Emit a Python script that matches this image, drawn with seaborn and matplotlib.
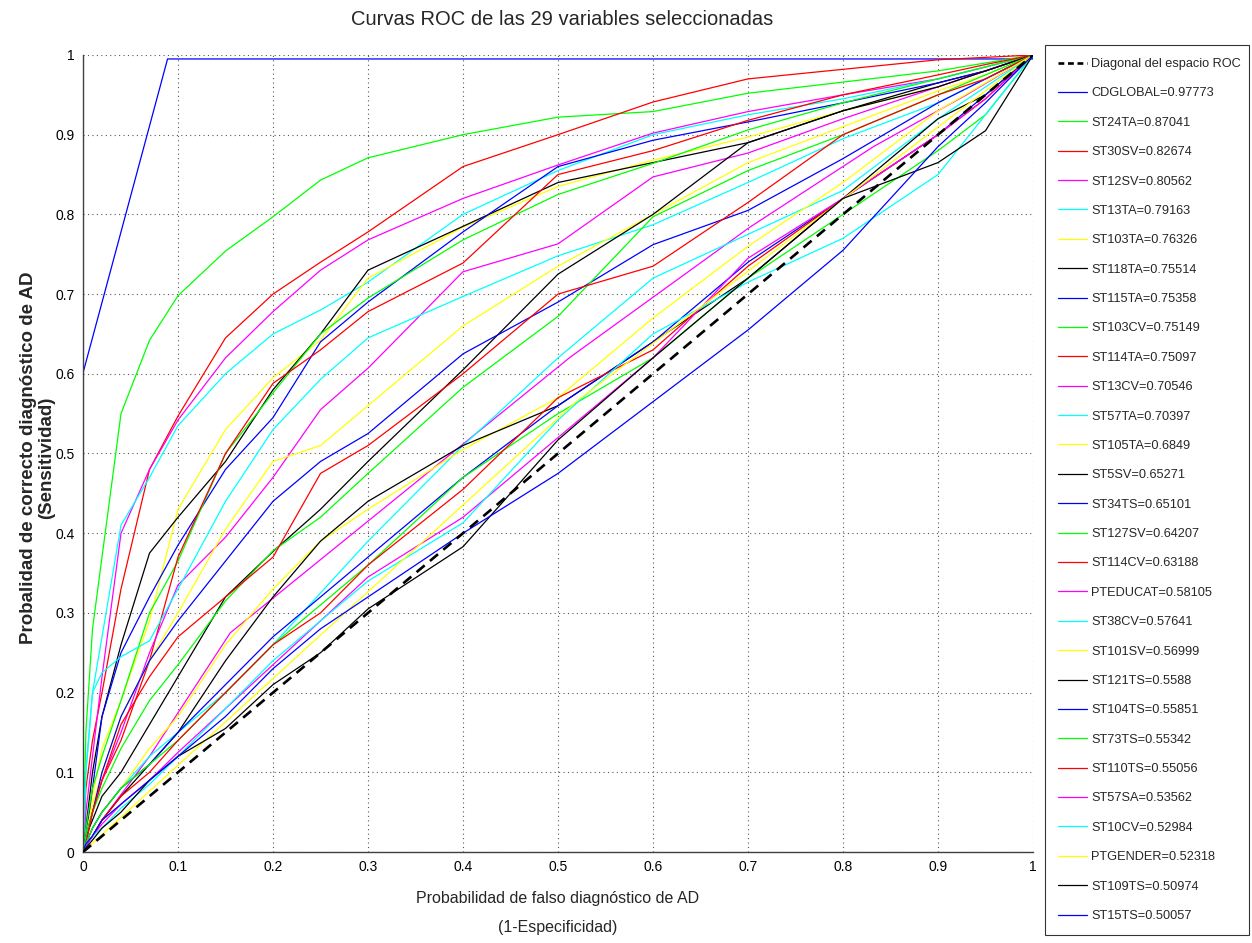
import numpy as np
import pandas as pd
import matplotlib
matplotlib.use("Agg")
import matplotlib.pyplot as plt
from matplotlib.lines import Line2D
import seaborn as sns

# ---------------- data ----------------
names = ["CDGLOBAL", "ST24TA", "ST30SV", "ST12SV", "ST13TA", "ST103TA", "ST118TA",
         "ST115TA", "ST103CV", "ST114TA", "ST13CV", "ST57TA", "ST105TA", "ST5SV",
         "ST34TS", "ST127SV", "ST114CV", "PTEDUCAT", "ST38CV", "ST101SV", "ST121TS",
         "ST104TS", "ST73TS", "ST110TS", "ST57SA", "ST10CV", "PTGENDER", "ST109TS", "ST15TS"]
auc_values = [0.97773, 0.87041, 0.82674, 0.80562, 0.79163, 0.76326, 0.75514,
              0.75358, 0.75149, 0.75097, 0.70546, 0.70397, 0.6849, 0.65271,
              0.65101, 0.64207, 0.63188, 0.58105, 0.57641, 0.56999, 0.5588,
              0.55851, 0.55342, 0.55056, 0.53562, 0.52984, 0.52318, 0.50974, 0.50057]

# shared false-positive-rate grid for most curves
fpr_grid = [0, 0.003, 0.01, 0.02, 0.04, 0.07, 0.1, 0.15, 0.2, 0.25, 0.3,
            0.4, 0.5, 0.6, 0.7, 0.8, 0.9, 0.95, 1.0]

fpr_cdglobal = [0, 0, 0.089, 1.0, 1.0]
tpr_cdglobal = [0, 0.601, 0.995, 0.995, 1.0]

tpr_st24ta   = [0, 0.15, 0.28, 0.37, 0.55, 0.642, 0.698, 0.754, 0.797, 0.843, 0.871, 0.90, 0.922, 0.929, 0.952, 0.966, 0.98, 0.99, 1.0]
tpr_st30sv   = [0, 0.08, 0.14, 0.20, 0.33, 0.48, 0.547, 0.645, 0.70, 0.74, 0.778, 0.86, 0.90, 0.941, 0.97, 0.982, 0.994, 0.997, 1.0]
tpr_st12sv   = [0, 0.05, 0.12, 0.22, 0.40, 0.48, 0.542, 0.62, 0.678, 0.73, 0.768, 0.82, 0.862, 0.902, 0.929, 0.95, 0.97, 0.985, 1.0]
tpr_st13ta   = [0, 0.10, 0.20, 0.27, 0.41, 0.47, 0.535, 0.60, 0.65, 0.68, 0.715, 0.80, 0.855, 0.90, 0.925, 0.945, 0.97, 0.985, 1.0]
tpr_st103ta  = [0, 0.02, 0.07, 0.13, 0.19, 0.29, 0.43, 0.53, 0.595, 0.642, 0.72, 0.784, 0.835, 0.868, 0.897, 0.93, 0.96, 0.98, 1.0]
tpr_st118ta  = [0, 0.03, 0.10, 0.17, 0.26, 0.375, 0.42, 0.49, 0.58, 0.65, 0.73, 0.785, 0.84, 0.865, 0.89, 0.93, 0.965, 0.98, 1.0]
tpr_st115ta  = [0, 0.02, 0.08, 0.17, 0.25, 0.32, 0.385, 0.48, 0.545, 0.64, 0.69, 0.778, 0.86, 0.893, 0.916, 0.94, 0.965, 0.98, 1.0]
tpr_st103cv  = [0, 0.03, 0.08, 0.12, 0.19, 0.30, 0.365, 0.50, 0.576, 0.65, 0.695, 0.768, 0.825, 0.864, 0.906, 0.94, 0.97, 0.985, 1.0]
tpr_st114ta  = [0, 0.01, 0.05, 0.09, 0.14, 0.24, 0.37, 0.50, 0.588, 0.63, 0.678, 0.739, 0.85, 0.88, 0.918, 0.95, 0.975, 0.988, 1.0]
tpr_st13cv   = [0, 0.02, 0.05, 0.09, 0.15, 0.25, 0.335, 0.395, 0.47, 0.555, 0.607, 0.728, 0.763, 0.847, 0.877, 0.92, 0.96, 0.98, 1.0]
tpr_st57ta   = [0, 0.10, 0.20, 0.225, 0.245, 0.265, 0.33, 0.44, 0.53, 0.593, 0.645, 0.697, 0.748, 0.787, 0.84, 0.895, 0.94, 0.97, 1.0]
tpr_st105ta  = [0, 0.02, 0.06, 0.10, 0.17, 0.24, 0.30, 0.405, 0.49, 0.51, 0.56, 0.66, 0.735, 0.80, 0.865, 0.91, 0.955, 0.975, 1.0]
tpr_st5sv    = [0, 0.02, 0.04, 0.07, 0.10, 0.16, 0.22, 0.32, 0.377, 0.43, 0.49, 0.605, 0.725, 0.80, 0.89, 0.93, 0.96, 0.98, 1.0]
tpr_st34ts   = [0, 0.02, 0.05, 0.10, 0.17, 0.24, 0.29, 0.365, 0.44, 0.49, 0.525, 0.625, 0.69, 0.762, 0.805, 0.87, 0.94, 0.97, 1.0]
tpr_st127sv  = [0, 0.02, 0.05, 0.08, 0.13, 0.19, 0.235, 0.315, 0.378, 0.42, 0.475, 0.583, 0.672, 0.797, 0.855, 0.90, 0.95, 0.975, 1.0]
tpr_st114cv  = [0, 0.01, 0.05, 0.09, 0.16, 0.22, 0.27, 0.32, 0.37, 0.475, 0.51, 0.60, 0.70, 0.735, 0.815, 0.90, 0.95, 0.97, 1.0]

fpr_pteducat = [0, 0.02, 0.07, 0.155, 0.513, 0.702, 0.832, 0.93, 1.0]
tpr_pteducat = [0, 0.04, 0.12, 0.275, 0.621, 0.784, 0.885, 0.95, 1.0]

tpr_st38cv   = [0, 0.01, 0.03, 0.05, 0.08, 0.12, 0.15, 0.20, 0.26, 0.325, 0.39, 0.51, 0.62, 0.72, 0.775, 0.83, 0.92, 0.96, 1.0]
tpr_st101sv  = [0, 0.01, 0.03, 0.05, 0.08, 0.13, 0.17, 0.26, 0.33, 0.39, 0.43, 0.505, 0.57, 0.67, 0.76, 0.84, 0.93, 0.965, 1.0]
tpr_st121ts  = [0, 0.01, 0.02, 0.04, 0.07, 0.11, 0.15, 0.24, 0.32, 0.39, 0.44, 0.51, 0.56, 0.64, 0.72, 0.82, 0.92, 0.95, 1.0]
tpr_st104ts  = [0, 0.01, 0.03, 0.05, 0.08, 0.11, 0.15, 0.21, 0.27, 0.32, 0.37, 0.47, 0.56, 0.64, 0.74, 0.82, 0.90, 0.95, 1.0]
tpr_st73ts   = [0, 0.01, 0.03, 0.05, 0.08, 0.11, 0.14, 0.20, 0.26, 0.31, 0.36, 0.47, 0.55, 0.62, 0.72, 0.80, 0.88, 0.925, 1.0]
tpr_st110ts  = [0, 0.01, 0.02, 0.04, 0.07, 0.10, 0.14, 0.20, 0.26, 0.30, 0.36, 0.455, 0.57, 0.63, 0.735, 0.82, 0.90, 0.945, 1.0]
tpr_st57sa   = [0, 0.01, 0.02, 0.035, 0.06, 0.09, 0.125, 0.18, 0.235, 0.29, 0.345, 0.42, 0.52, 0.62, 0.745, 0.82, 0.90, 0.945, 1.0]
tpr_st10cv   = [0, 0.01, 0.02, 0.03, 0.055, 0.085, 0.12, 0.18, 0.24, 0.29, 0.34, 0.413, 0.542, 0.65, 0.715, 0.77, 0.85, 0.925, 1.0]

fpr_ptgender = [0, 0.52, 1.0]
tpr_ptgender = [0, 0.566, 1.0]

tpr_st109ts  = [0, 0.005, 0.015, 0.03, 0.05, 0.09, 0.12, 0.155, 0.21, 0.25, 0.305, 0.383, 0.517, 0.62, 0.72, 0.82, 0.865, 0.905, 1.0]
tpr_st15ts   = [0, 0.01, 0.02, 0.04, 0.06, 0.09, 0.12, 0.17, 0.23, 0.28, 0.32, 0.40, 0.475, 0.565, 0.655, 0.755, 0.885, 0.94, 1.0]

curves = [
    (fpr_cdglobal, tpr_cdglobal), (fpr_grid, tpr_st24ta), (fpr_grid, tpr_st30sv),
    (fpr_grid, tpr_st12sv), (fpr_grid, tpr_st13ta), (fpr_grid, tpr_st103ta),
    (fpr_grid, tpr_st118ta), (fpr_grid, tpr_st115ta), (fpr_grid, tpr_st103cv),
    (fpr_grid, tpr_st114ta), (fpr_grid, tpr_st13cv), (fpr_grid, tpr_st57ta),
    (fpr_grid, tpr_st105ta), (fpr_grid, tpr_st5sv), (fpr_grid, tpr_st34ts),
    (fpr_grid, tpr_st127sv), (fpr_grid, tpr_st114cv), (fpr_pteducat, tpr_pteducat),
    (fpr_grid, tpr_st38cv), (fpr_grid, tpr_st101sv), (fpr_grid, tpr_st121ts),
    (fpr_grid, tpr_st104ts), (fpr_grid, tpr_st73ts), (fpr_grid, tpr_st110ts),
    (fpr_grid, tpr_st57sa), (fpr_grid, tpr_st10cv), (fpr_ptgender, tpr_ptgender),
    (fpr_grid, tpr_st109ts), (fpr_grid, tpr_st15ts),
]

tick_values = [0, 0.1, 0.2, 0.3, 0.4, 0.5, 0.6, 0.7, 0.8, 0.9, 1]
tick_labels = ["0", "0.1", "0.2", "0.3", "0.4", "0.5", "0.6", "0.7", "0.8", "0.9", "1"]

matlab_colors = [(0, 0, 1), (0, 1, 0), (1, 0, 0), (1, 0, 1), (0, 1, 1), (1, 1, 0), (0, 0, 0)]

# ---------------- style ----------------
sns.set_style("white")
plt.rcParams['font.family'] = ['Liberation Sans Narrow', 'Liberation Sans', 'DejaVu Sans']

fig = plt.figure(figsize=(12.52, 9.43), dpi=100)
ax = fig.add_axes([0.0663, 0.0965, 0.7588, 0.8452])

handles = []
labels = []
for i, (name, auc, (fx, ty)) in enumerate(zip(names, auc_values, curves)):
    col = matlab_colors[i % len(matlab_colors)]
    df = pd.DataFrame({"fpr": fx, "tpr": ty})
    sns.lineplot(data=df, x="fpr", y="tpr", sort=False, estimator=None,
                 color=col, lw=0.9, ax=ax, legend=False, zorder=2)
    handles.append(Line2D([0], [0], color=col, lw=0.9))
    labels.append(f"{name}={auc}")

diag_df = pd.DataFrame({"fpr": [0, 1], "tpr": [0, 1]})
sns.lineplot(data=diag_df, x="fpr", y="tpr", color="black", lw=1.9, ax=ax,
             legend=False, zorder=3, linestyle=(0, (4, 2.6)))
diag_handle = Line2D([0], [0], color="black", lw=1.9, linestyle=(0, (2.2, 1.4)))

ax.set_xlim(0, 1)
ax.set_ylim(0, 1)
ax.set_xticks(tick_values)
ax.set_xticklabels(tick_labels)
ax.set_yticks(tick_values)
ax.set_yticklabels(tick_labels)
ax.tick_params(direction="in", length=6, width=0.8, labelsize=10, colors="black",
               top=False, right=False, pad=6)
ax.grid(True, color="0.35", linestyle=(0, (1, 3)), linewidth=0.8)
for side in ["top", "right"]:
    ax.spines[side].set_visible(False)
for side in ["left", "bottom"]:
    ax.spines[side].set_color("0.25")
    ax.spines[side].set_linewidth(1.0)

ax.set_xlabel("")
ax.set_ylabel("")
fig.text(0.4457, 0.047, "Probabilidad de falso diagnóstico de AD", ha="center", va="center", fontsize=11.5)
fig.text(0.4457, 0.016, "(1-Especificidad)", ha="center", va="center", fontsize=11.5)
fig.text(0.030, 0.515, "Probalidad de correcto diagnóstico de AD\n(Sensitividad)",
         rotation=90, ha="center", va="center", fontsize=13.5, fontweight="bold",
         family=['Liberation Sans', 'DejaVu Sans'], linespacing=1.05)
fig.text(0.449, 0.979, "Curvas ROC de las 29 variables seleccionadas", ha="center", va="center", fontsize=14.5)

leg = fig.legend([diag_handle] + handles, ["Diagonal del espacio ROC"] + labels,
                 loc="upper left", bbox_to_anchor=(0.8347, 0.0085, 0.163, 0.9435),
                 mode="expand", frameon=True,
                 fancybox=False, edgecolor="black", fontsize=9.2, labelspacing=1.36,
                 handlelength=2.3, handletextpad=0.3, borderaxespad=0, borderpad=1.0)
leg.get_frame().set_linewidth(0.8)

fig.savefig("out.png", dpi=100, facecolor="white")
